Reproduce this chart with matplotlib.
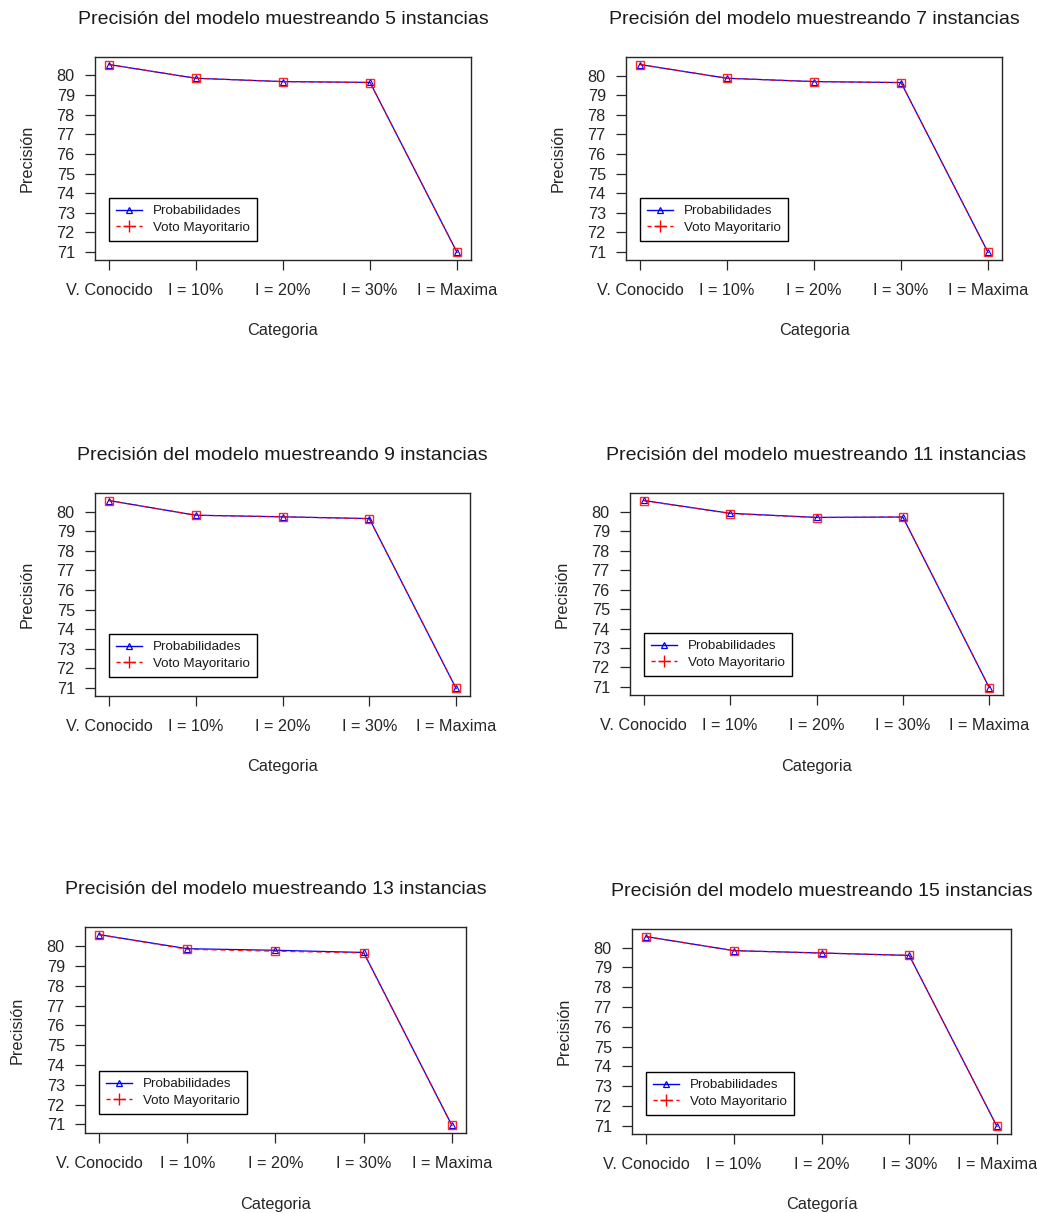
import matplotlib
matplotlib.use('Agg')
import matplotlib.pyplot as plt
from matplotlib.lines import Line2D

plt.rcParams['font.family'] = ['Liberation Sans', 'DejaVu Sans']

categorias = ['V. Conocido', 'I = 10%', 'I = 20%', 'I = 30%', 'I = Maxima']
instancias = [5, 7, 9, 11, 13, 15]

# precisión por categoría, una lista por tamaño de muestreo
prob_5  = [80.55, 79.85, 79.68, 79.64, 70.98]
voto_5  = [80.55, 79.85, 79.68, 79.63, 70.98]
prob_7  = [80.56, 79.86, 79.69, 79.64, 70.98]
voto_7  = [80.56, 79.86, 79.69, 79.64, 70.98]
prob_9  = [80.56, 79.81, 79.73, 79.64, 70.98]
voto_9  = [80.56, 79.81, 79.73, 79.63, 70.98]
prob_11 = [80.59, 79.93, 79.72, 79.74, 70.97]
voto_11 = [80.58, 79.92, 79.71, 79.74, 70.97]
prob_13 = [80.58, 79.87, 79.79, 79.68, 70.95]
voto_13 = [80.58, 79.84, 79.74, 79.66, 70.95]
prob_15 = [80.56, 79.85, 79.73, 79.61, 70.97]
voto_15 = [80.56, 79.85, 79.73, 79.61, 70.97]

series = [(prob_5, voto_5), (prob_7, voto_7), (prob_9, voto_9),
          (prob_11, voto_11), (prob_13, voto_13), (prob_15, voto_15)]
xlabels = ['Categoria'] * 5 + ['Categoría']

W, H = 1037, 1213
# caja de cada gráfico en píxeles: izquierda, arriba, derecha, abajo
cajas = [(95, 57, 471, 260), (626, 57, 1002, 260),
         (95, 493, 470, 696), (630, 493, 1003, 695),
         (85, 927, 466, 1133), (632, 929, 1011, 1134)]

GRIS = '#262626'
fig = plt.figure(figsize=(W / 100, H / 100), dpi=100)
fig.patch.set_facecolor('white')

x = list(range(1, len(categorias) + 1))

for (prob, voto), n, (l, t, r, b), xl in zip(series, instancias, cajas, xlabels):
    ax = fig.add_axes([l / W, 1 - b / H, (r - l) / W, (b - t) / H])
    ax.plot(x, prob, color='blue', lw=0.9, marker='^', ms=4, mfc='none',
            mec='blue', mew=0.8)
    ax.plot(x, voto, color='red', lw=0.9, ls=(0, (4, 3)), marker='s', ms=5.5,
            mfc='none', mec='red', mew=1.0, alpha=0.85)
    ax.margins(x=0.04, y=0.04)

    ax.set_xticks(x)
    ax.set_xticklabels(categorias, fontsize=11.7, color=GRIS)
    ax.set_yticks(range(71, 81))
    ax.tick_params(axis='both', direction='out', length=7.5, width=0.9,
                   colors=GRIS, labelsize=11.7)
    ax.tick_params(axis='x', pad=9)
    ax.tick_params(axis='y', pad=7)
    for s in ax.spines.values():
        s.set_color(GRIS)
        s.set_linewidth(1.0)

    ax.set_title(f'Precisión del modelo muestreando {n} instancias',
                 fontsize=14, color='#1a1a1a', pad=24)
    ax.set_ylabel('Precisión', fontsize=11.7, color=GRIS)
    ax.yaxis.set_label_coords(-68 / (r - l), 0.5)
    ax.yaxis.label.set_verticalalignment('center')
    ax.set_xlabel(xl, fontsize=11.7, color=GRIS)
    ax.xaxis.set_label_coords(0.5, -71 / (b - t))
    ax.xaxis.label.set_verticalalignment('center')

    handles = [
        Line2D([], [], color='blue', lw=1.0, marker='^', ms=5, mfc='none', mew=0.9),
        Line2D([], [], color='red', lw=1.0, ls=(0, (3, 2.5)), marker='+', ms=8, mew=1.0),
    ]
    leg = ax.legend(handles, ['Probabilidades', 'Voto Mayoritario'],
                    loc='lower left', bbox_to_anchor=(14 / (r - l), 19 / (b - t)),
                    borderaxespad=0, fancybox=False, framealpha=1,
                    edgecolor='black', fontsize=9.6, handlelength=1.9,
                    handletextpad=0.85, borderpad=0.55, labelspacing=0.3,
                    numpoints=1)
    leg.get_frame().set_linewidth(1.0)
    for txt in leg.get_texts():
        txt.set_color('#1a1a1a')

fig.savefig('out.png', dpi=100, facecolor='white')
